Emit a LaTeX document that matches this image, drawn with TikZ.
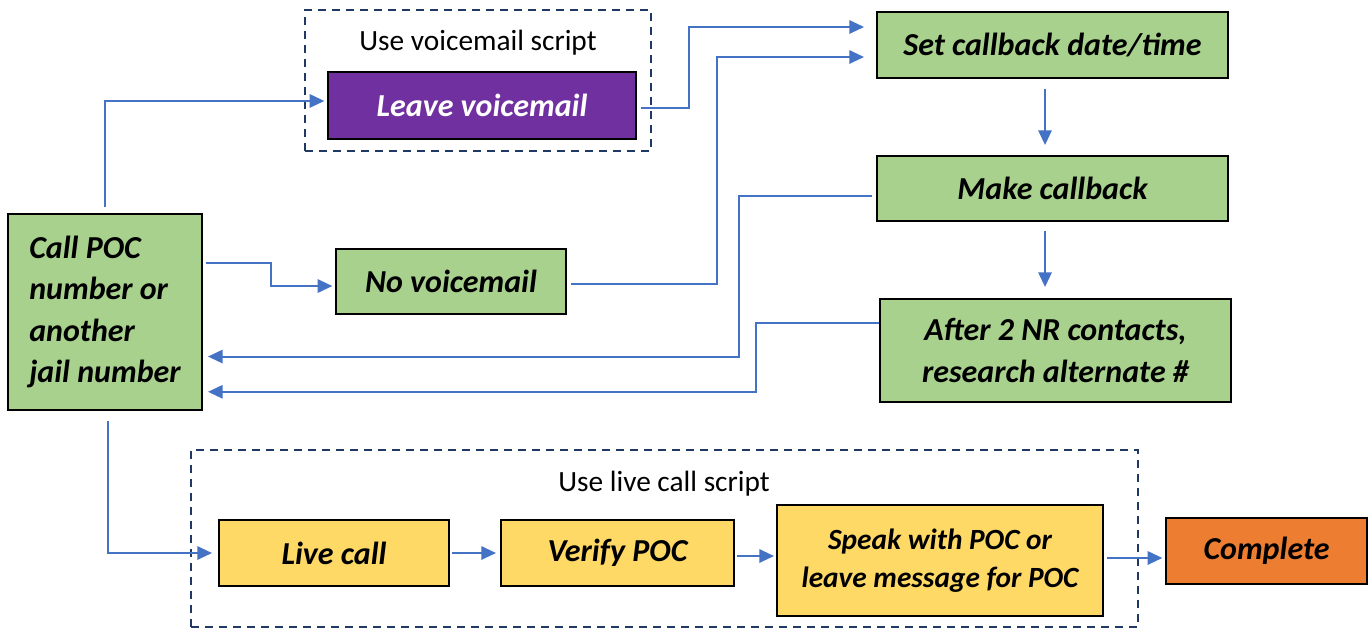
\documentclass[tikz,border=0pt]{standalone}
\usepackage{fontspec}
\setmainfont{Carlito}
\usetikzlibrary{arrows.meta,calc}

\begin{document}
\begin{tikzpicture}[x=0.75pt,y=0.75pt,yscale=-1,xscale=1,
  box/.style={draw=black, line width=1.5pt, align=center, inner sep=2pt, font=\fontsize{24}{31}\selectfont\bfseries\itshape},
  frame/.style={draw={rgb, 255:red, 32; green, 56; blue, 100}, line width=1.5pt, dash pattern=on 6pt off 4.5pt},
  flow/.style={color={rgb, 255:red, 68; green, 114; blue, 196}, line width=1.5pt, -{Triangle[length=11pt,width=10pt]}},
  note/.style={anchor=base, inner sep=0.75pt, font=\fontsize{22}{26}\selectfont}
]
\useasboundingbox (0,0) rectangle (1370,629);

%Shape: Dashed Frames
\node [frame, minimum width=259.5pt, minimum height=105.75pt] (vmframe) at (478,80.5) {};
\node [frame, minimum width=710.25pt, minimum height=132.75pt] (liveframe) at (664.5,538.5) {};
% Text Node
\node [note] (vmlabel) at (478,50) {Use voicemail script};
% Text Node
\node [note] (livelabel) at (664,491) {Use live call script};

%Shape: Rectangle
\node [box, fill={rgb, 255:red, 169; green, 209; blue, 142}, align=left, minimum width=145.5pt, minimum height=147pt] (call) at (105,312) {Call POC\\number or\\another\\jail number};
%Shape: Rectangle
\node [box, fill={rgb, 255:red, 112; green, 48; blue, 160}, text=white, minimum width=231pt, minimum height=50.25pt] (leave) at (482,105.5) {Leave voicemail};
%Shape: Rectangle
\node [box, fill={rgb, 255:red, 169; green, 209; blue, 142}, minimum width=172.5pt, minimum height=48.75pt] (novm) at (451,281.5) {No voicemail};
%Shape: Rectangle
\node [box, fill={rgb, 255:red, 169; green, 209; blue, 142}, minimum width=263.25pt, minimum height=49.5pt] (setcb) at (1052.5,45) {Set callback date/time};
%Shape: Rectangle
\node [box, fill={rgb, 255:red, 169; green, 209; blue, 142}, minimum width=263.25pt, minimum height=48.75pt] (make) at (1052.5,188.5) {Make callback};
%Shape: Rectangle
\node [box, fill={rgb, 255:red, 169; green, 209; blue, 142}, font=\fontsize{24}{32}\selectfont\bfseries\itshape, minimum width=263.25pt, minimum height=77.25pt] (after) at (1055.5,350.5) {After 2 NR contacts,\\research alternate \#};
%Shape: Rectangle
\node [box, fill={rgb, 255:red, 255; green, 217; blue, 102}, minimum width=172.5pt, minimum height=49.5pt] (live) at (334,553) {Live call};
%Shape: Rectangle
\node [box, fill={rgb, 255:red, 255; green, 217; blue, 102}, minimum width=174.75pt, minimum height=49.5pt] (verify) at (617.5,553) {Verify POC};
%Shape: Rectangle
\node [box, fill={rgb, 255:red, 255; green, 217; blue, 102}, font=\fontsize{22}{28.5}\selectfont\bfseries\itshape, minimum width=244.5pt, minimum height=83.25pt] (speak) at (940,560.5) {Speak with POC or\\leave message for POC};
%Shape: Rectangle
\node [box, fill={rgb, 255:red, 237; green, 125; blue, 49}, minimum width=150.75pt, minimum height=49.5pt] (complete) at (1266.5,551) {Complete};

%Straight Lines
\draw [flow, shorten <=4.5pt, shorten >=2pt] (call.north) |- ([yshift=-3.4pt]leave.west);
%Straight Lines
\draw [flow, shorten <=2pt, shorten >=2pt] ($(call.north east)!0.25!(call.south east)$) -- ++(68,0) |- ([yshift=3.4pt]novm.west);
%Straight Lines
\draw [flow, shorten <=3pt, shorten >=9pt] ([yshift=1.5pt]leave.east) -- ++(52,0) |- ([yshift=-13.5pt]setcb.west);
%Straight Lines
\draw [flow, shorten <=3pt, shorten >=9pt] ([yshift=1.5pt]novm.east) -- ++(150,0) |- ([yshift=9pt]setcb.west);
%Straight Lines
\draw [flow, shorten <=3pt, shorten >=3.75pt] ([yshift=5.6pt]make.west) -- ++(-137,0) |- ($(call.north east)!0.725!(call.south east)$);
%Straight Lines
\draw [flow, shorten >=3.75pt] ([yshift=-20.6pt]after.west) -- ++(-123,0) |- ($(call.north east)!0.903!(call.south east)$);
%Straight Lines
\draw [flow, shorten <=7.5pt, shorten >=4.5pt] ([xshift=2.25pt]call.south) |- (live.west);
%Straight Lines
\draw [flow, shorten <=1.5pt, shorten >=3pt] (live.east) -- (verify.west);
%Straight Lines
\draw [flow, shorten <=1.5pt, shorten >=1.5pt] ([yshift=2.25pt]verify.east) -- ([yshift=2.25pt]verify.east -| speak.west);
%Straight Lines
\draw [flow, shorten <=2pt, shorten >=2pt] ([yshift=-1.9pt]speak.east) -- ([yshift=-1.9pt]speak.east -| complete.west);
%Straight Lines
\draw [flow, shorten <=7.5pt, shorten >=7.5pt] ([xshift=-5.6pt]setcb.south) -- ([xshift=-5.6pt]setcb.south |- make.north);
%Straight Lines
\draw [flow, shorten <=6.75pt, shorten >=8.25pt] ([xshift=-5.6pt]make.south) -- ([xshift=-5.6pt]make.south |- after.north);

\end{tikzpicture}
\end{document}
